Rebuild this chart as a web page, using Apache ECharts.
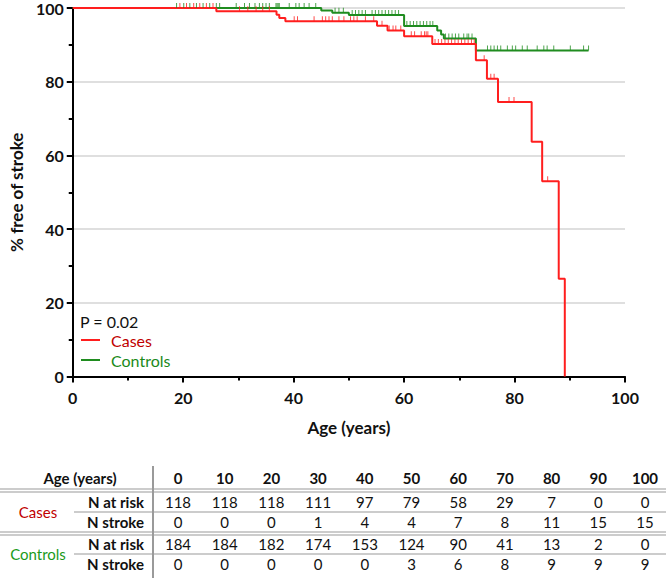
<!DOCTYPE html>
<html><head><meta charset="utf-8">
<script src="https://cdn.jsdelivr.net/npm/echarts@6/dist/echarts.min.js"></script>
<style>html,body{margin:0;padding:0;background:#fff}#c{width:666px;height:578px}</style>
</head><body><div id="c"></div>
<script>
// ---- Kaplan-Meier step data (age in years, % free of stroke) ----
const casesTimes = [0, 26.0, 36.9, 37.4, 38.5, 55.1, 57.0, 60.0, 65.1, 73.0, 75.0, 77.0, 83.1, 85.0, 88.0, 89.1];
const casesSurv  = [100, 99.1, 98.2, 97.3, 96.4, 95.2, 93.9, 92.3, 90.2, 85.8, 80.8, 74.5, 63.7, 53.0, 26.5, 0];
const controlsTimes = [0, 45.0, 47.0, 50.0, 60.0, 66.0, 66.7, 67.2, 73.0, 93.4];
const controlsSurv  = [100, 99.3, 98.7, 98.1, 95.1, 93.9, 92.8, 91.7, 88.5, 88.5];
// censoring times
const casesCensor = [19.4, 20.6, 21.9, 23.0, 24.2, 25.4, 30.2, 31.7, 33.2, 34.4, 35.6,
  40.1, 40.7, 43.7, 45.2, 45.8, 46.4, 47.0, 48.2, 49.1, 50.3, 50.9, 51.5, 53.0, 54.5,
  56.0, 57.3, 58.0, 58.5, 59.4, 61.3, 61.9, 63.1, 63.7, 64.0, 64.3,
  65.6, 66.2, 66.8, 67.4, 68.0, 68.6, 69.2, 69.8, 70.4, 71.0, 71.6, 72.2, 72.7,
  74.5, 75.7, 76.3, 79.0, 79.9, 86.0];
const controlsCensor = [18.8, 20.1, 21.2, 22.4, 23.6, 24.8, 26.0, 26.6, 29.6, 31.1, 32.0, 33.0, 33.8,
  34.4, 35.0, 35.6, 36.8, 37.0, 37.2, 37.4, 39.2, 40.4, 41.0, 41.9, 42.8, 44.0,
  47.5, 48.2, 49.0, 50.6, 51.2, 51.8, 52.4, 53.0, 54.2, 54.8, 55.4, 56.0, 56.6, 57.2, 57.8, 58.4, 59.0,
  60.5, 61.1, 61.7, 62.3, 62.9, 63.5, 64.1, 64.7, 65.2,
  67.5, 68.1, 68.7, 69.3, 69.9, 70.8, 71.4, 71.7, 72.3,
  75.1, 75.7, 76.3, 76.9, 77.5, 78.7, 79.6, 80.2, 81.4, 82.3, 84.1, 85.3, 85.9, 87.1, 90.1, 92.5, 93.4];
const xTicks = [0, 20, 40, 60, 80, 100];
const yTicks = [0, 20, 40, 60, 80, 100];
// ---- risk table ----
const tableAges = [0, 10, 20, 30, 40, 50, 60, 70, 80, 90, 100];
const casesAtRisk = [118, 118, 118, 111, 97, 79, 58, 29, 7, 0, 0];
const casesStroke = [0, 0, 0, 1, 4, 4, 7, 8, 11, 15, 15];
const controlsAtRisk = [184, 184, 182, 174, 153, 124, 90, 41, 13, 2, 0];
const controlsStroke = [0, 0, 0, 0, 0, 3, 6, 8, 9, 9, 9];
const pText = 'P = 0.02';

const RED = '#ff1e1e', GREEN = '#1f8c1f';
const FONT = 'Lato, "Open Sans", sans-serif';

function survAt(times, surv, t) {
  let v = surv[0];
  for (let i = 0; i < times.length; i++) if (times[i] <= t) v = surv[i];
  return v;
}
const pairs = (ts, ss) => ts.map((t, i) => [t, ss[i]]);

// table graphics
const g = [];
const colX = i => 178 + 46.7 * i;
const rowY = [478, 502, 522, 544, 564];
const txt = (text, x, y, opts) => g.push(Object.assign({type: 'text', x, y, silent: true,
  style: Object.assign({text: String(text), fill: '#111', font: '15px ' + FONT, align: 'center', verticalAlign: 'middle'}, opts || {})}));
const line = (x1, y1, x2, y2, w) => g.push({type: 'line', silent: true, shape: {x1, y1, x2, y2}, style: {stroke: '#9a9a9a', lineWidth: w || 1.2}});

txt('Age (years)', 80, rowY[0], {font: 'bold 15px ' + FONT});
tableAges.forEach((a, i) => txt(a, colX(i), rowY[0], {font: 'bold 15px ' + FONT}));
const rows = [casesAtRisk, casesStroke, controlsAtRisk, controlsStroke];
rows.forEach((arr, r) => arr.forEach((v, i) => txt(v, colX(i), rowY[r + 1])));
['N at risk', 'N stroke', 'N at risk', 'N stroke'].forEach((s, r) => txt(s, 144, rowY[r + 1], {font: 'bold 15px ' + FONT, align: 'right'}));
txt('Cases', 38, (rowY[1] + rowY[2]) / 2, {fill: '#c00000'});
txt('Controls', 38, (rowY[3] + rowY[4]) / 2, {fill: '#1a9a1a'});
line(0, 489, 666, 489); line(0, 492, 666, 492);
line(74, 512, 666, 512);
line(0, 532, 666, 532); line(0, 535, 666, 535);
line(74, 554, 666, 554);
line(153, 466, 153, 578, 2);
g.push({type: 'text', x: 80, y: 321, silent: true, style: {text: pText, fill: '#111', font: '16px ' + FONT, align: 'left', verticalAlign: 'middle'}});

const chart = echarts.init(document.getElementById('c'), null, {renderer: 'svg'});
const axisCommon = {
  min: 0, max: 100, interval: 20,
  axisLine: {lineStyle: {color: '#000', width: 2}},
  axisTick: {show: true, length: 6, lineStyle: {color: '#000', width: 2}},
  minorTick: {show: true, splitNumber: 2, length: 4, lineStyle: {color: '#000', width: 2}},
  axisLabel: {color: '#111', fontFamily: FONT, fontWeight: 'bold', fontSize: 16},
  nameTextStyle: {color: '#111', fontFamily: FONT, fontWeight: 'bold', fontSize: 17}
};
chart.setOption({
  animation: false,
  grid: {left: 68.7, right: 41, top: 5.5, bottom: 201.5, containLabel: false},
  xAxis: Object.assign({}, axisCommon, {
    type: 'value', name: 'Age (years)', nameLocation: 'middle', nameGap: 42,
    splitLine: {show: false},
    axisLabel: Object.assign({}, axisCommon.axisLabel, {margin: 13})
  }),
  yAxis: Object.assign({}, axisCommon, {
    type: 'value', name: '% free of stroke', nameLocation: 'middle', nameGap: 46, nameRotate: 90,
    splitLine: {show: true, lineStyle: {color: '#d4d4d4', width: 1.5}},
    axisLabel: Object.assign({}, axisCommon.axisLabel, {margin: 9})
  }),
  legend: {
    orient: 'vertical', left: 81, top: 330, padding: 0, itemWidth: 19, itemHeight: 2, itemGap: 0,
    icon: 'rect', selectedMode: false,
    textStyle: {fontFamily: FONT, fontSize: 16, lineHeight: 20, padding: [0, 0, 0, 6]},
    data: [
      {name: 'Cases', textStyle: {color: '#c00000'}},
      {name: 'Controls', textStyle: {color: '#1a8a1a'}}
    ]
  },
  graphic: g,
  series: [
    {name: 'Controls', type: 'line', step: 'end', symbol: 'none', data: pairs(controlsTimes, controlsSurv),
     lineStyle: {color: GREEN, width: 2}, itemStyle: {color: GREEN}, z: 2},
    {name: 'Cases', type: 'line', step: 'end', symbol: 'none', data: pairs(casesTimes, casesSurv),
     lineStyle: {color: RED, width: 2}, itemStyle: {color: RED}, z: 3},
    {name: 'ControlsCensor', type: 'scatter', symbol: 'rect', symbolSize: [1, 5], symbolOffset: [0, -2.5],
     data: controlsCensor.map(t => [t, survAt(controlsTimes, controlsSurv, t)]), itemStyle: {color: GREEN}, z: 4},
    {name: 'CasesCensor', type: 'scatter', symbol: 'rect', symbolSize: [1, 5], symbolOffset: [0, -2.5],
     data: casesCensor.map(t => [t, survAt(casesTimes, casesSurv, t)]), itemStyle: {color: RED}, z: 5}
  ]
});
</script></body></html>
